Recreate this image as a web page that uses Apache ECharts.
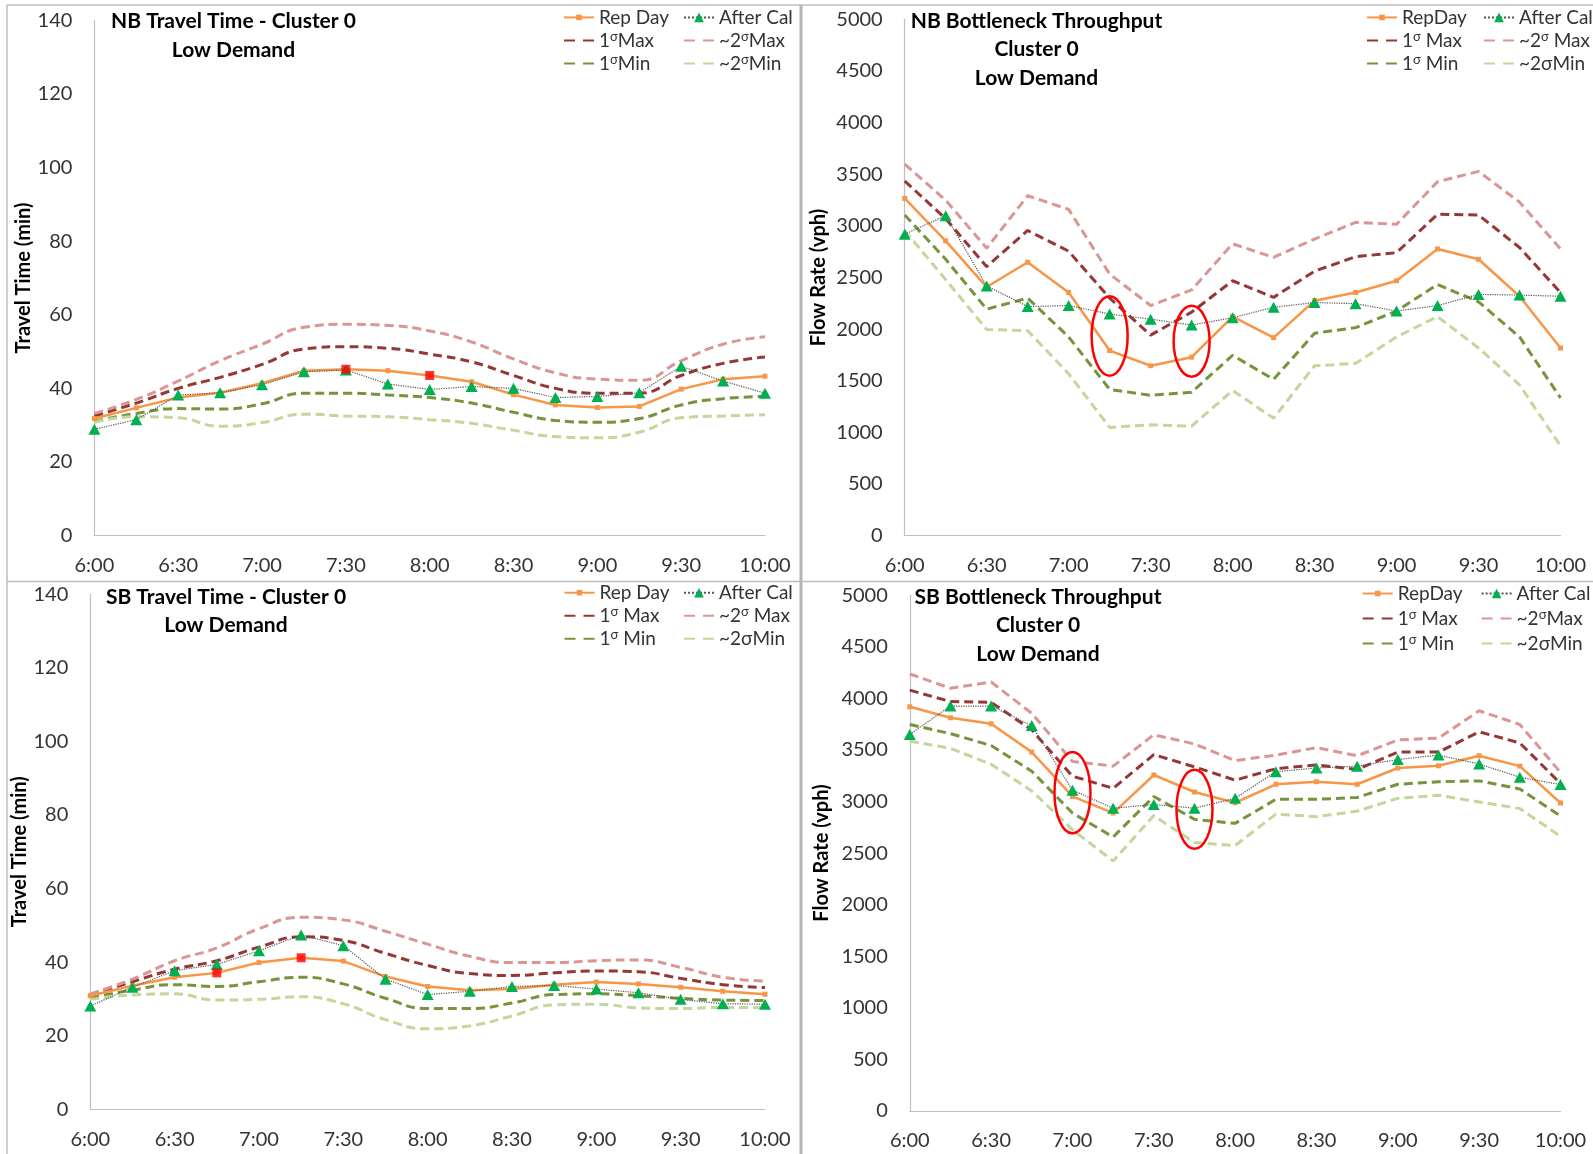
<!DOCTYPE html>
<html><head><meta charset="utf-8">
<script src="https://cdn.jsdelivr.net/npm/echarts@6/dist/echarts.min.js"></script>
<style>html,body{margin:0;padding:0;background:#fff}#c{width:1593px;height:1154px}</style>
</head><body><div id="c"></div>
<script>
// ---------- DATA ----------
const times = ['6:00','6:15','6:30','6:45','7:00','7:15','7:30','7:45','8:00','8:15','8:30','8:45','9:00','9:15','9:30','9:45','10:00'];

// NB travel time (min)
const nbTT_rep   = [31.8,34.7,37.5,38.8,41.4,44.8,45.2,44.8,43.5,41.8,38.3,35.5,34.8,35.1,39.8,42.5,43.3];
const nbTT_cal   = [28.9,31.5,38.2,38.8,41.0,44.5,45.0,41.2,39.7,40.5,40.0,37.5,37.8,38.8,46.0,42.0,38.7];
const nbTT_1max  = [32.5,36.0,40.0,43.0,46.5,50.7,51.3,50.9,49.3,47.2,43.5,40.0,38.7,38.7,43.5,46.8,48.5];
const nbTT_2max  = [33.2,37.0,42.0,47.5,52.0,56.6,57.4,57.1,55.6,52.6,48.0,44.2,42.5,42.2,47.5,52.0,54.0];
const nbTT_1min  = [31.0,33.2,34.5,34.4,35.8,38.7,38.7,38.2,37.5,36.0,33.5,31.3,30.8,31.8,35.5,37.2,37.8];
const nbTT_2min  = [30.8,32.3,32.0,29.7,30.7,33.0,32.5,32.3,31.5,30.5,28.6,26.9,26.6,28.1,32.0,32.5,32.8];
const nbTT_mark  = ['7:30','8:00'];

// NB bottleneck throughput (vph)
const nbF_rep    = [3266,2854,2407,2647,2354,1792,1645,1728,2121,1917,2275,2354,2468,2776,2676,2318,1817];
const nbF_cal    = [2919,3098,2418,2218,2228,2146,2096,2039,2110,2211,2257,2246,2175,2228,2336,2329,2318];
const nbF_1max   = [3434,3069,2604,2955,2754,2300,1942,2164,2468,2307,2561,2701,2740,3112,3105,2790,2354];
const nbF_2max   = [3598,3248,2783,3291,3159,2533,2228,2379,2826,2694,2872,3033,3015,3427,3527,3230,2776];
const nbF_1min   = [3105,2676,2193,2300,1924,1416,1359,1388,1746,1513,1960,2014,2175,2432,2264,1924,1334];
const nbF_2min   = [2955,2479,1996,1985,1567,1048,1073,1059,1406,1137,1645,1667,1924,2121,1817,1459, 869];
const nbF_rings  = [['7:15',1549,2318],['7:45',1538,2225]];

// SB travel time (min)
const sbTT_rep   = [30.9,33.6,35.9,37.1,39.9,41.2,40.3,36.1,33.4,32.4,32.7,33.9,34.6,34.1,33.2,32.1,31.3];
const sbTT_cal   = [28.1,33.2,37.7,39.4,43.1,47.4,44.5,35.4,31.2,32.1,33.4,33.7,32.7,31.7,29.9,28.7,28.6];
const sbTT_1max  = [31.1,34.7,38.1,40.4,44.1,46.9,45.9,42.4,39.1,36.9,36.4,37.1,37.6,37.4,35.6,33.9,33.1];
const sbTT_2max  = [31.4,35.4,40.4,43.9,49.1,52.2,51.5,48.4,44.9,41.6,39.9,39.9,40.4,40.6,38.6,35.9,34.9];
const sbTT_1min  = [30.4,32.4,33.9,33.4,34.7,35.9,34.1,30.2,27.4,27.4,28.9,31.2,31.4,30.9,30.2,29.7,29.6];
const sbTT_2min  = [29.9,31.1,31.4,29.7,29.9,30.6,28.7,24.4,21.9,22.7,25.4,28.4,28.6,27.6,27.4,27.7,27.7];
const sbTT_mark  = ['6:45','7:15'];

// SB bottleneck throughput (vph)
const sbF_rep    = [3919,3812,3754,3479,3049,2888,3257,3092,2988,3167,3192,3167,3325,3346,3443,3343,2985];
const sbF_cal    = [3651,3926,3926,3737,3110,2935,2971,2935,3031,3289,3325,3343,3407,3450,3364,3235,3164];
const sbF_1max   = [4080,3969,3962,3694,3246,3128,3454,3336,3207,3318,3354,3311,3479,3479,3676,3568,3175];
const sbF_2max   = [4237,4098,4159,3855,3389,3343,3647,3558,3396,3450,3522,3443,3597,3615,3880,3747,3282];
const sbF_1min   = [3747,3658,3543,3293,2888,2656,3049,2827,2788,3021,3021,3039,3167,3192,3200,3121,2860];
const sbF_2min   = [3586,3515,3361,3103,2727,2423,2863,2602,2573,2878,2853,2906,3031,3060,2996,2931,2663];
const sbF_rings  = [['7:00',2691,3479],['7:45',2541,3307]];

// Text
const titles = [
  'NB Travel Time - Cluster 0\nLow Demand',
  'NB Bottleneck Throughput\nCluster 0\nLow Demand',
  'SB Travel Time - Cluster 0\nLow Demand',
  'SB Bottleneck Throughput\nCluster 0\nLow Demand'
];
const yNames = ['Travel Time (min)','Flow Rate (vph)','Travel Time (min)','Flow Rate (vph)'];
// order: rep, cal, 1max, 2max, 1min, 2min
const legendLabels = [
  ['Rep Day','After Cal','1{s|σ}Max','~2{s|σ}Max','1{s|σ}Min','~2{s|σ}Min'],
  ['RepDay','After Cal','1{s|σ} Max','~2{s|σ} Max','1{s|σ} Min','~2σMin'],
  ['Rep Day','After Cal','1{s|σ} Max','~2{s|σ} Max','1{s|σ} Min','~2σMin'],
  ['RepDay','After Cal','1{s|σ} Max','~2{s|σ}Max','1{s|σ} Min','~2σMin']
];

// ---------- LAYOUT / STYLE ----------
const FONT = 'Lato, "Open Sans", sans-serif';
const panels = [
  {rep:nbTT_rep, cal:nbTT_cal, b:[nbTT_1max,nbTT_2max,nbTT_1min,nbTT_2min], marks:nbTT_mark, rings:[], smooth:true, max:140, interval:20,
   grid:{left:94.4, top:20.3, width:670.6, height:515.3}, nameGap:60, title:[233.5, 7.3],
   leg:[[563, 7.4, 3],[683, 7.4, 3]]},
  {rep:nbF_rep, cal:nbF_cal, b:[nbF_1max,nbF_2max,nbF_1min,nbF_2min], marks:[], rings:nbF_rings, smooth:false, max:5000, interval:500,
   grid:{left:904.7, top:19.3, width:655.8, height:516.3}, nameGap:76, title:[1036.5, 6.8],
   leg:[[1366, 7.4, 3],[1483, 7.4, 3]]},
  {rep:sbTT_rep, cal:sbTT_cal, b:[sbTT_1max,sbTT_2max,sbTT_1min,sbTT_2min], marks:sbTT_mark, rings:[], smooth:true, max:140, interval:20,
   grid:{left:90.3, top:594.2, width:674.7, height:515.2}, nameGap:56, title:[226, 582.8],
   leg:[[563.5, 582.7, 3],[683, 582.7, 3]]},
  {rep:sbF_rep, cal:sbF_cal, b:[sbF_1max,sbF_2max,sbF_1min,sbF_2min], marks:[], rings:sbF_rings, smooth:false, max:5000, interval:500,
   grid:{left:909.8, top:595.3, width:650.7, height:515.5}, nameGap:78, title:[1038, 582.8],
   leg:[[1361.7, 583.5, 5],[1480.6, 583.5, 5]]}
];
const bandColors = ['#953735','#D99694','#77933C','#C3D69B'];

const grid=[], xAxis=[], yAxis=[], series=[], legend=[];
panels.forEach((p,i)=>{
  grid.push(Object.assign({outerBoundsMode:'none', containLabel:false}, p.grid));
  xAxis.push({type:'category', gridIndex:i, data:times, boundaryGap:false,
    axisTick:{show:false}, axisLine:{show:true, lineStyle:{color:'#bfbfbf', width:1.2}},
    axisLabel:{interval:1, color:'#333', fontSize:20, fontFamily:FONT, margin:20},
    splitLine:{show:false}});
  yAxis.push({type:'value', gridIndex:i, min:0, max:p.max, interval:p.interval,
    axisTick:{show:false}, axisLine:{show:true, lineStyle:{color:'#bfbfbf', width:1.2}},
    axisLabel:{color:'#333', fontSize:20, fontFamily:FONT, margin:22, formatter:v=>String(v)},
    splitLine:{show:false},
    name:yNames[i], nameLocation:'middle', nameRotate:90, nameGap:p.nameGap,
    nameTextStyle:{fontWeight:'bold', fontSize:20, fontFamily:FONT, color:'#000'}});
  const ids = ['rep','cal','1max','2max','1min','2min'].map(k=>'p'+i+'-'+k);
  [2,3,4,5].forEach((k,j)=>{
    series.push({type:'line', name:ids[k], xAxisIndex:i, yAxisIndex:i, data:p.b[j],
      symbol:'none', smooth:p.smooth ? 0.5 : false, z:2,
      lineStyle:{color:bandColors[j], width:3, type:[9,5]}, itemStyle:{color:bandColors[j]}});
  });
  series.push({type:'line', name:ids[0], xAxisIndex:i, yAxisIndex:i, data:p.rep, z:3,
    symbol:'rect', symbolSize:5, showAllSymbol:true,
    lineStyle:{color:'#F79646', width:2.5}, itemStyle:{color:'#F79646'}});
  series.push({type:'line', name:ids[1], xAxisIndex:i, yAxisIndex:i, data:p.cal, z:4,
    symbol:'triangle', symbolSize:[12,11], showAllSymbol:true,
    lineStyle:{color:'#555', width:1.2, type:'dotted'}, itemStyle:{color:'#00B050'}});
  if (p.marks.length) {
    series.push({type:'scatter', name:'p'+i+'-mark', xAxisIndex:i, yAxisIndex:i, z:5,
      data:p.marks.map(t=>[t, p.rep[times.indexOf(t)]]),
      symbol:'rect', symbolSize:9, itemStyle:{color:'#FF0000'}});
  }
  const labelMap = {};
  ids.forEach((id,k)=>labelMap[id]=legendLabels[i][k]);
  const legCommon = {orient:'vertical', padding:0, itemWidth:30, selectedMode:false,
    formatter:n=>labelMap[n],
    textStyle:{fontSize:19, fontFamily:FONT, color:'#333', lineHeight:20,
      rich:{s:{fontSize:13, fontFamily:FONT, color:'#333', verticalAlign:'top', lineHeight:14}}}};
  const dashLeg = {type:[11,8]};
  legend.push(Object.assign({}, legCommon, {left:p.leg[0][0], top:p.leg[0][1], itemGap:p.leg[0][2], itemHeight:7,
    data:[{name:ids[0]},{name:ids[2], itemStyle:{opacity:0}, lineStyle:dashLeg},{name:ids[4], itemStyle:{opacity:0}, lineStyle:dashLeg}]}));
  legend.push(Object.assign({}, legCommon, {left:p.leg[1][0], top:p.leg[1][1], itemGap:p.leg[1][2], itemHeight:12,
    data:[{name:ids[1]},{name:ids[3], itemStyle:{opacity:0}, lineStyle:dashLeg},{name:ids[5], itemStyle:{opacity:0}, lineStyle:dashLeg}]}));
});

const chart = echarts.init(document.getElementById('c'), null, {renderer:'canvas'});
chart.setOption({animation:false, backgroundColor:'#fff', grid, xAxis, yAxis, series, legend});

// ---------- decorations ----------
const graphic = [];
const bc = '#bdbdbd';
graphic.push({type:'line', shape:{x1:7, y1:5, x2:1593, y2:5}, style:{stroke:bc, lineWidth:1.5}});
graphic.push({type:'line', shape:{x1:7, y1:5, x2:7, y2:1154}, style:{stroke:bc, lineWidth:1.5}});
graphic.push({type:'line', shape:{x1:801, y1:5, x2:801, y2:1154}, style:{stroke:'#b5b5b5', lineWidth:3}});
graphic.push({type:'line', shape:{x1:7, y1:581.5, x2:1593, y2:581.5}, style:{stroke:bc, lineWidth:1.5}});
panels.forEach((p,i)=>{
  graphic.push({type:'text', z:10, style:{text:titles[i], x:p.title[0], y:p.title[1], align:'center', verticalAlign:'top',
    lineHeight:28.5, font:'bold 21px ' + FONT, fill:'#000'}});
  p.rings.forEach(r=>{
    const top = chart.convertToPixel({gridIndex:i}, [r[0], r[2]]);
    const bot = chart.convertToPixel({gridIndex:i}, [r[0], r[1]]);
    graphic.push({type:'ellipse', z:10, shape:{cx:top[0], cy:(top[1]+bot[1])/2, rx:18, ry:(bot[1]-top[1])/2},
      style:{fill:'none', stroke:'#FF0000', lineWidth:2.5}});
  });
});
chart.setOption({graphic});
</script></body></html>
